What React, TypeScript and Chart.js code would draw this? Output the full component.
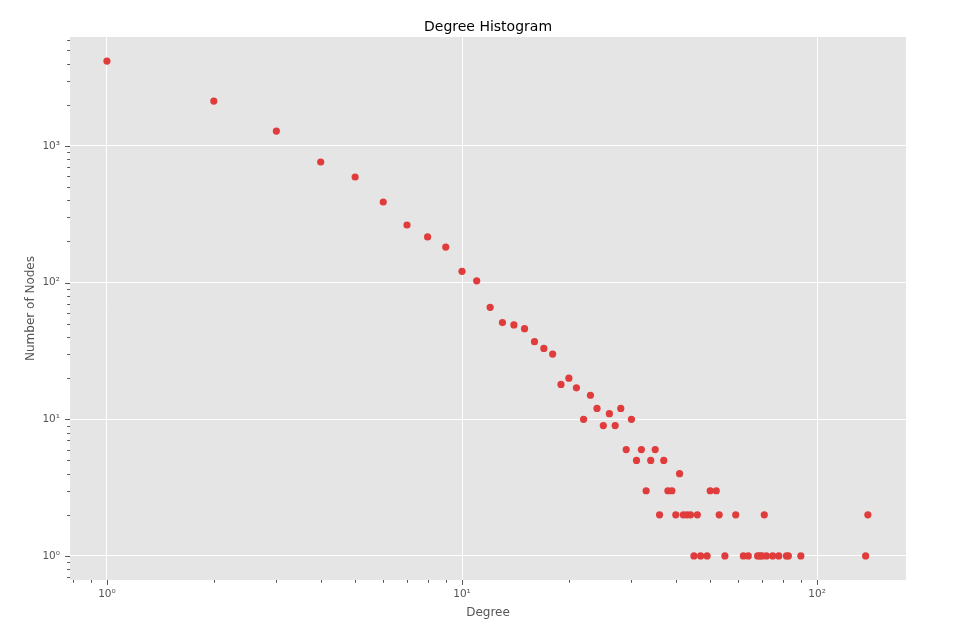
import { useEffect, useRef } from "react";
import { Chart, registerables } from "chart.js";
import type { Plugin } from "chart.js";

Chart.register(...registerables);

// degree -> number of nodes
const degrees = [
  1, 2, 3, 4, 5, 6, 7, 8, 9, 10, 11, 12, 13, 14, 15, 16, 17, 18, 19, 20, 21,
  22, 23, 24, 25, 26, 27, 28, 29, 30, 31, 32, 33, 34, 35, 36, 37, 38, 39, 40,
  41, 42, 43, 44, 45, 46, 47, 49, 50, 52, 53, 55, 59, 62, 64, 68, 69, 70, 71,
  72, 75, 78, 82, 83, 90, 137, 139,
];
const nodeCounts = [
  4180, 2130, 1285, 763, 593, 389, 264, 216, 182, 121, 103, 66, 51, 49, 46,
  37, 33, 30, 18, 20, 17, 10, 15, 12, 9, 11, 9, 12, 6, 10, 5, 6, 3, 5, 6, 2, 5,
  3, 3, 2, 4, 2, 2, 2, 1, 2, 1, 1, 3, 3, 2, 1, 2, 1, 1, 1, 1, 1, 2, 1, 1, 1, 1,
  1, 1, 1, 2,
];

const xRange = [0.787, 178];
const yRange = [0.667, 6270];

const SUP: Record<string, string> = {
  "0": "⁰", "1": "¹", "2": "²", "3": "³", "4": "⁴", "-": "⁻",
};

const isDecade = (v: number) => Math.abs(Math.log10(v) - Math.round(Math.log10(v))) < 1e-6;

function logTicks(min: number, max: number) {
  const out: { value: number; major: boolean }[] = [];
  for (let e = Math.floor(Math.log10(min)); e <= Math.ceil(Math.log10(max)); e++) {
    for (let k = 1; k <= 9; k++) {
      const v = k * Math.pow(10, e);
      if (v >= min && v <= max) out.push({ value: v, major: k === 1 });
    }
  }
  return out;
}

function decadeLabel(v: number) {
  if (!isDecade(v)) return "";
  const e = String(Math.round(Math.log10(v)));
  return "10" + e.split("").map((c) => SUP[c] ?? c).join("");
}

const FONT = "'DejaVu Sans', sans-serif";

const bgPlugin: Plugin = {
  id: "plotBg",
  beforeDraw(chart) {
    const { ctx, chartArea: a } = chart;
    ctx.save();
    ctx.fillStyle = "#E5E5E5";
    ctx.fillRect(a.left, a.top, a.right - a.left, a.bottom - a.top);
    ctx.restore();
  },
};

const decorPlugin: Plugin = {
  id: "decor",
  afterDraw(chart) {
    const { ctx, chartArea: a } = chart;
    ctx.save();
    ctx.strokeStyle = "#555555";
    ctx.lineWidth = 1;
    const xs = chart.scales.x;
    xs.ticks.forEach((t) => {
      const px = Math.round(xs.getPixelForValue(t.value)) + 0.5;
      const len = t.major ? 4.9 : 2.8;
      ctx.beginPath();
      ctx.moveTo(px, a.bottom);
      ctx.lineTo(px, a.bottom + len);
      ctx.stroke();
    });
    const ys = chart.scales.y;
    ys.ticks.forEach((t) => {
      const py = Math.round(ys.getPixelForValue(t.value)) + 0.5;
      const len = t.major ? 4.9 : 2.8;
      ctx.beginPath();
      ctx.moveTo(a.left, py);
      ctx.lineTo(a.left - len, py);
      ctx.stroke();
    });

    // title centred over the plot area
    ctx.fillStyle = "#000000";
    ctx.font = `14px ${FONT}`;
    ctx.textAlign = "center";
    ctx.textBaseline = "middle";
    ctx.fillText("Degree Histogram", (a.left + a.right) / 2, 27);
    ctx.restore();
  },
};

export default function App() {
  const canvasRef = useRef<HTMLCanvasElement>(null);
  const chartRef = useRef<Chart | null>(null);

  useEffect(() => {
    document.body.style.margin = "0";
    const ctx = canvasRef.current?.getContext("2d");
    if (!ctx) return;

    chartRef.current?.destroy();
    chartRef.current = new Chart(ctx, {
      type: "scatter",
      data: {
        datasets: [
          {
            data: degrees.map((d, i) => ({ x: d, y: nodeCounts[i] })),
            backgroundColor: "#E03C3C",
            borderColor: "#E03C3C",
            borderWidth: 0,
            pointRadius: 3.6,
            pointHoverRadius: 3.6,
          },
        ],
      },
      options: {
        responsive: false,
        animation: false,
        events: [],
        layout: { padding: { left: 0, right: 57, top: 37, bottom: 0 } },
        plugins: {
          legend: { display: false },
          tooltip: { enabled: false },
          title: { display: false },
        },
        scales: {
          x: {
            type: "logarithmic",
            min: xRange[0],
            max: xRange[1],
            afterBuildTicks: (s) => {
              s.ticks = logTicks(xRange[0], xRange[1]);
            },
            afterFit: (s) => {
              s.height = 56;
            },
            border: { display: false },
            grid: {
              drawTicks: false,
              color: (c) => (c.tick && c.tick.major ? "#FFFFFF" : "rgba(0,0,0,0)"),
              lineWidth: 1,
            },
            ticks: {
              autoSkip: false,
              maxRotation: 0,
              padding: 8,
              color: "#555555",
              font: { family: FONT, size: 10.5 },
              callback: (v) => decadeLabel(Number(v)),
            },
            title: {
              display: true,
              text: "Degree",
              color: "#555555",
              font: { family: FONT, size: 12 },
              padding: { top: 0, bottom: 16 },
            },
          },
          y: {
            type: "logarithmic",
            min: yRange[0],
            max: yRange[1],
            afterBuildTicks: (s) => {
              s.ticks = logTicks(yRange[0], yRange[1]);
            },
            afterFit: (s) => {
              s.width = 70;
            },
            border: { display: false },
            grid: {
              drawTicks: false,
              color: (c) => (c.tick && c.tick.major ? "#FFFFFF" : "rgba(0,0,0,0)"),
              lineWidth: 1,
            },
            ticks: {
              autoSkip: false,
              padding: 10,
              color: "#555555",
              font: { family: FONT, size: 10.5 },
              callback: (v) => decadeLabel(Number(v)),
            },
            title: {
              display: true,
              text: "Number of Nodes",
              color: "#555555",
              font: { family: FONT, size: 12 },
              padding: { top: 24, bottom: 0 },
            },
          },
        },
      },
      plugins: [bgPlugin, decorPlugin],
    });

    return () => {
      chartRef.current?.destroy();
      chartRef.current = null;
    };
  }, []);

  return (
    <div style={{ width: 963, height: 636, background: "#fff" }}>
      <canvas ref={canvasRef} width={963} height={636} />
    </div>
  );
}
